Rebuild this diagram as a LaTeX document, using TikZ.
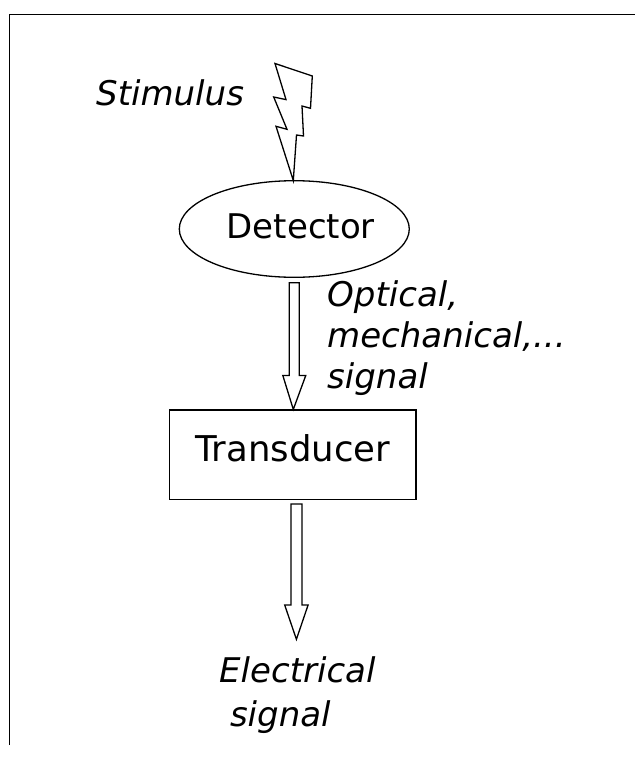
\documentclass[tikz,border=0pt]{standalone}
\usepackage{fontspec}
\setmainfont{DejaVu Sans}
\usetikzlibrary{shapes.geometric,calc}
\begin{document}
\begin{tikzpicture}[x=1pt,y=-1pt,
  outline/.style={draw=black, line width=1.3pt, line join=miter},
  lbl/.style={font=\fontsize{34}{41}\selectfont\itshape, inner sep=0pt, anchor=base west, align=left},
  boxtext/.style={font=\fontsize{34}{41}\selectfont},
  block/.style={draw=black, line width=1.3pt, fill=white}]
\useasboundingbox (0,0) rectangle (635,758);
\draw[line width=1pt] (9,745) -- (9,14) -- (635,14);
% nodes
\node[ellipse, draw, line width=1.3pt, minimum width=230pt, minimum height=96.6pt, inner sep=0pt,
  label={[boxtext, xshift=6.5pt, yshift=2.3pt]center:Detector}] (det) at (294.3,229) {};
\node[rectangle, draw, line width=1.3pt, minimum width=246.7pt, minimum height=89.3pt, inner sep=0pt,
  label={[boxtext, font=\fontsize{35.5}{41}\selectfont, yshift=6.7pt]center:Transducer}] (trans) at (292.7,454.7) {};
\coordinate (etip) at (296.4,639.3);
% lightning bolt
\draw[outline, fill=white] (275,63.5) -- (312.3,76) -- (310.5,108.3) -- (302,106) -- (303.5,136) -- (296.5,135) -- (293.3,180.5) -- (276,126.3) -- (287,129.3) -- (273.7,97) -- (286,99.6) -- cycle;
% block arrows
\draw[block] let \p1=(det.south), \p2=(trans.north) in
  (\x1-5pt,\y1-4.7pt) -- (\x1-5pt,\y2+34pt) -- (\x1-11.5pt,\y2+34pt) -- (\x1-1pt,\y2) -- (\x1+11.5pt,\y2+34pt) -- (\x1+5pt,\y2+34pt) -- (\x1+5pt,\y1-4.7pt) -- cycle;
\draw[block] let \p1=(trans.south), \p2=(etip) in
  (\x2-5.5pt,\y1-4pt) -- (\x2-5.5pt,\y2+34.3pt) -- (\x2-11.7pt,\y2+34.3pt) -- (\p2) -- (\x2+11.7pt,\y2+34.3pt) -- (\x2+5.5pt,\y2+34.3pt) -- (\x2+5.5pt,\y1-4pt) -- cycle;
% labels (multi-line nodes: base anchor = last line baseline)
\node[lbl] (stim) at (96,105) {Stimulus};
\node[lbl] (optical) at (327,388) {Optical,\\mechanical,...\\signal};
\node[lbl, font=\fontsize{34}{44}\selectfont\itshape] (elec) at (219,726.7) {Electrical\\\hspace*{10.8pt}signal};
\end{tikzpicture}
\end{document}
